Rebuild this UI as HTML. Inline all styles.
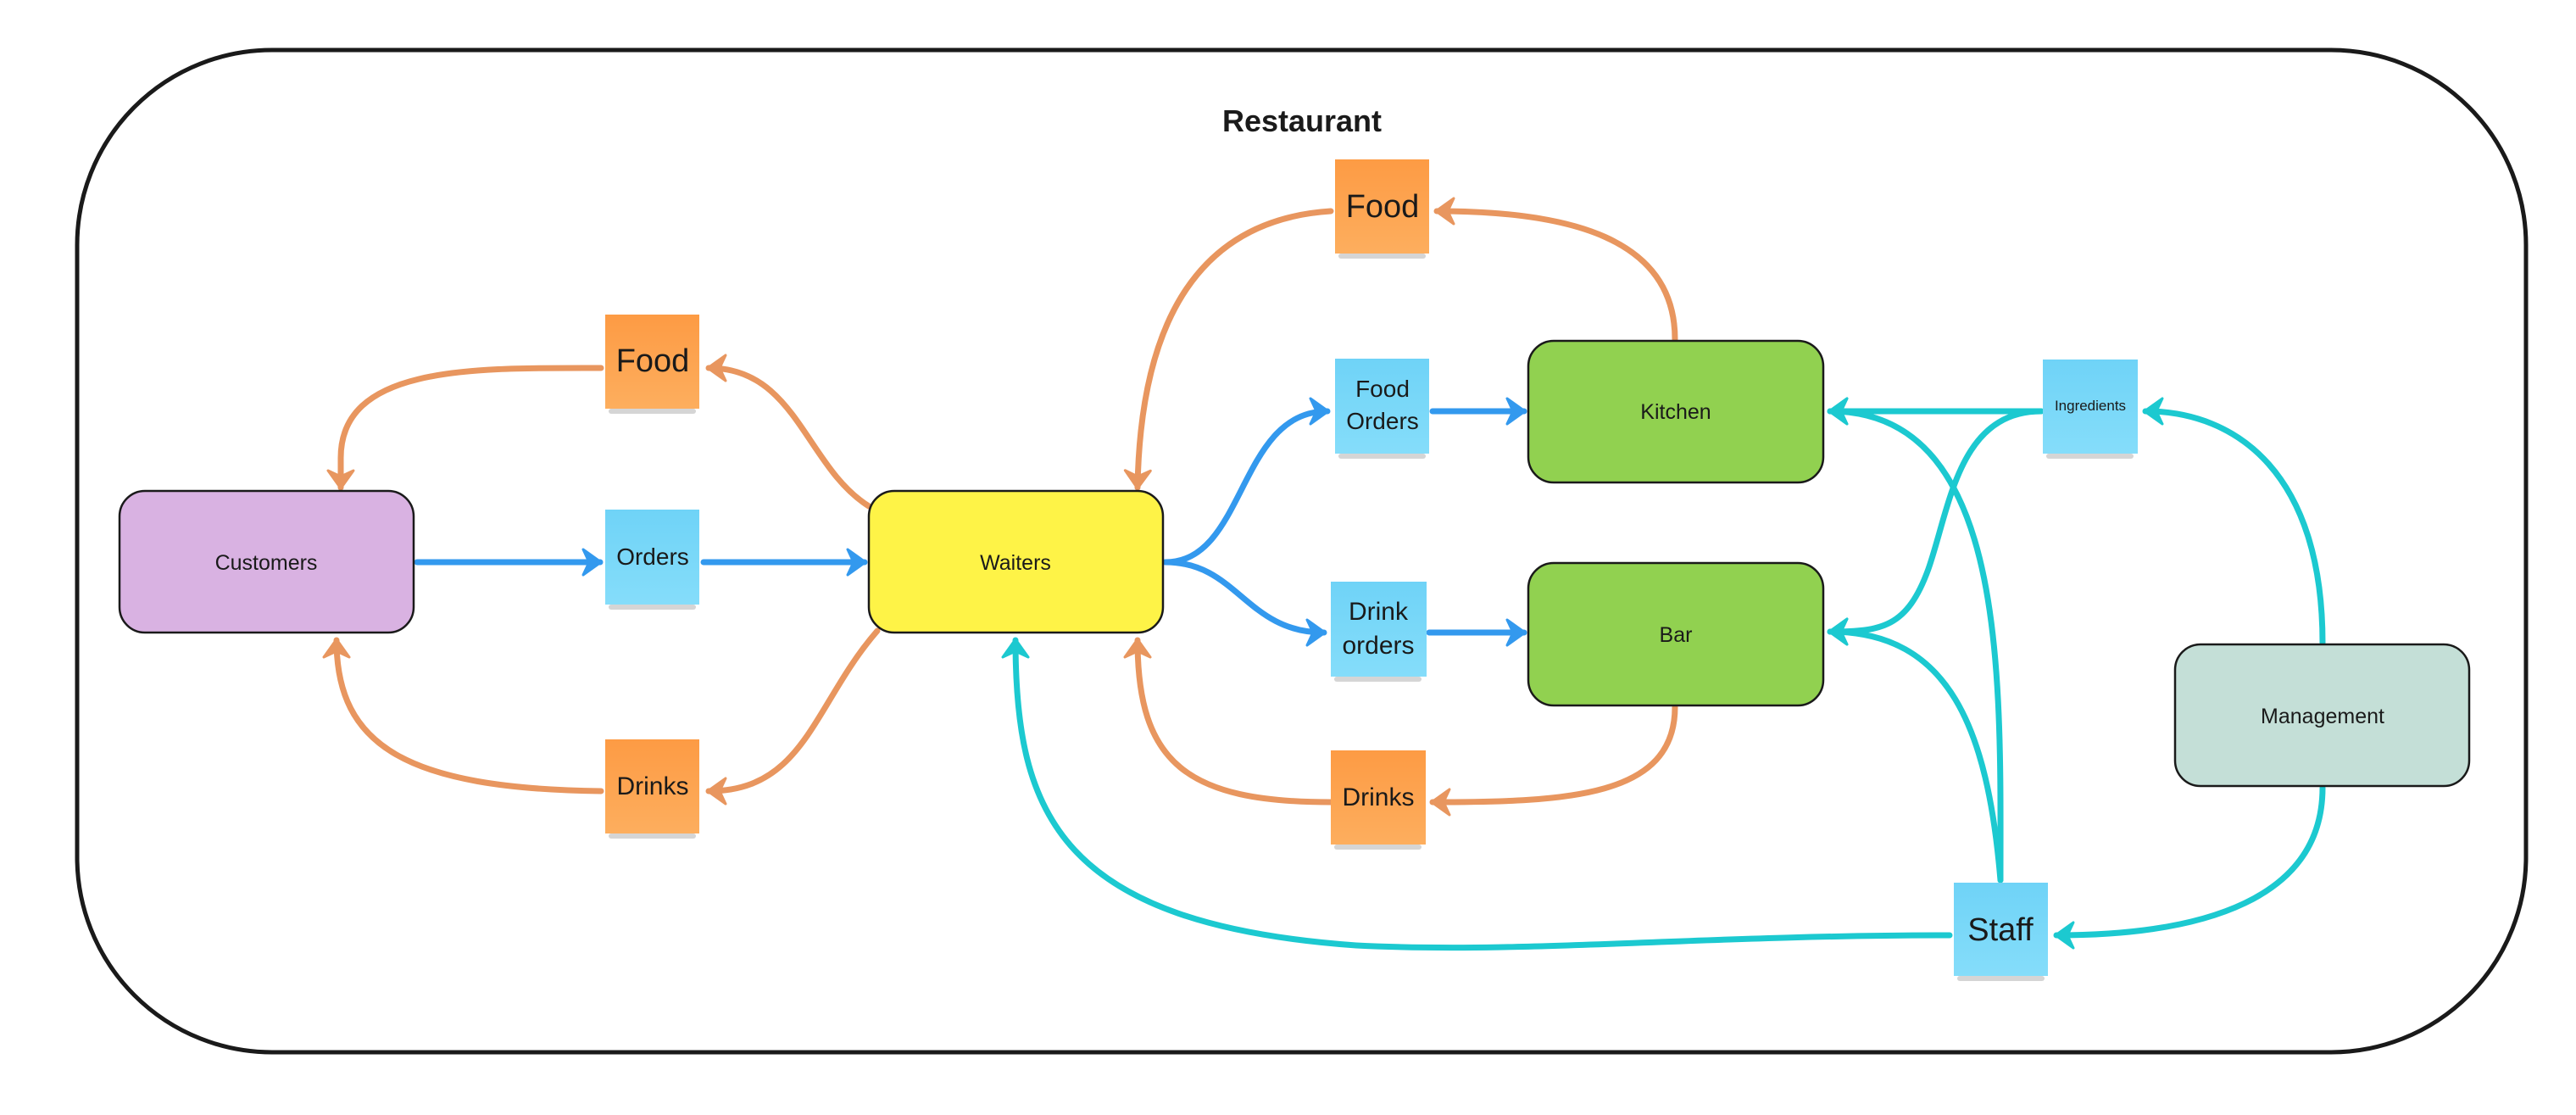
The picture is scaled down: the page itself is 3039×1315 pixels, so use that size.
<!DOCTYPE html>
<html><head><meta charset="utf-8"><style>
html,body{margin:0;padding:0;background:#fff;}
svg{display:block;}
text{font-family:"Liberation Sans",sans-serif;fill:#1a1a1a;}
</style></head><body>
<svg width="3039" height="1315" viewBox="0 0 3039 1315" xmlns="http://www.w3.org/2000/svg">
<defs>
<marker id="ao" markerUnits="userSpaceOnUse" markerWidth="40" markerHeight="40" refX="30" refY="20" orient="auto"><path d="M10,5 L31,20 L10,35 L17,20 Z" fill="#E8965F" stroke="#E8965F" stroke-width="3" stroke-linejoin="round"/></marker>
<marker id="ab" markerUnits="userSpaceOnUse" markerWidth="40" markerHeight="40" refX="30" refY="20" orient="auto"><path d="M10,5 L31,20 L10,35 L17,20 Z" fill="#3399EE" stroke="#3399EE" stroke-width="3" stroke-linejoin="round"/></marker>
<marker id="ac" markerUnits="userSpaceOnUse" markerWidth="40" markerHeight="40" refX="30" refY="20" orient="auto"><path d="M10,5 L31,20 L10,35 L17,20 Z" fill="#1CC9D0" stroke="#1CC9D0" stroke-width="3" stroke-linejoin="round"/></marker>
<linearGradient id="go" x1="0" y1="0" x2="0" y2="1"><stop offset="0" stop-color="#FD9B44"/><stop offset="1" stop-color="#FDAE5E"/></linearGradient>
<linearGradient id="gb" x1="0" y1="0" x2="0" y2="1"><stop offset="0" stop-color="#6FD3F7"/><stop offset="1" stop-color="#85DDFA"/></linearGradient>
</defs>
<rect x="91" y="59" width="2889" height="1182" rx="230" ry="230" fill="#fff" stroke="#1a1a1a" stroke-width="5"/>
<text x="1536" y="155" font-size="36" font-weight="bold" text-anchor="middle">Restaurant</text>

<g fill="none" stroke-width="7" stroke-linecap="round">
<path d="M709,434 C560,434 402,430 402,540 L402,575" stroke="#E8965F" marker-end="url(#ao)"/>
<path d="M1025,597 C950,550 940,434 836,434" stroke="#E8965F" marker-end="url(#ao)"/>
<path d="M1035,744 C960,830 950,933 836,933" stroke="#E8965F" marker-end="url(#ao)"/>
<path d="M709,933 C480,930 397,880 397,755" stroke="#E8965F" marker-end="url(#ao)"/>
<path d="M1570,249 C1400,260 1345,400 1342,575" stroke="#E8965F" marker-end="url(#ao)"/>
<path d="M1570,946 C1400,946 1342,900 1342,755" stroke="#E8965F" marker-end="url(#ao)"/>
<path d="M1976,400 C1976,280 1850,249 1695,249" stroke="#E8965F" marker-end="url(#ao)"/>
<path d="M1976,834 C1976,940 1850,946 1690,946" stroke="#E8965F" marker-end="url(#ao)"/>
<path d="M492,663 L708,663" stroke="#3399EE" marker-end="url(#ab)"/>
<path d="M830,663 L1020,663" stroke="#3399EE" marker-end="url(#ab)"/>
<path d="M1375,663 C1470,663 1460,485 1566,485" stroke="#3399EE" marker-end="url(#ab)"/>
<path d="M1375,663 C1460,663 1470,746 1562,746" stroke="#3399EE" marker-end="url(#ab)"/>
<path d="M1690,485 L1798,485" stroke="#3399EE" marker-end="url(#ab)"/>
<path d="M1686,746 L1798,746" stroke="#3399EE" marker-end="url(#ab)"/>
<path d="M2300,1103 C2000,1103 1800,1125 1600,1115 C1250,1090 1198,960 1198,755" stroke="#1CC9D0" marker-end="url(#ac)"/>
<path d="M2408,485 L2159,485" stroke="#1CC9D0" marker-end="url(#ac)"/>
<path d="M2408,485 C2310,485 2300,600 2275,671 C2250,740 2220,745 2159,745" stroke="#1CC9D0" marker-end="url(#ac)"/>
<path d="M2360,1038 C2360,800 2370,485 2159,485" stroke="#1CC9D0" marker-end="url(#ac)"/>
<path d="M2360,1038 C2345,860 2300,745 2159,745" stroke="#1CC9D0" marker-end="url(#ac)"/>
<path d="M2740,758 C2740,560 2640,485 2531,485" stroke="#1CC9D0" marker-end="url(#ac)"/>
<path d="M2740,929 C2740,1060 2600,1103 2426,1103" stroke="#1CC9D0" marker-end="url(#ac)"/>
</g>

<g stroke="#1a1a1a" stroke-width="2.5">
<rect x="141" y="579" width="347" height="167" rx="30" fill="#D9B2E2"/>
<rect x="1025" y="579" width="347" height="167" rx="30" fill="#FEF347"/>
<rect x="1803" y="402" width="348" height="167" rx="30" fill="#91D150"/>
<rect x="1803" y="664" width="348" height="168" rx="30" fill="#91D150"/>
<rect x="2566" y="760" width="347" height="167" rx="30" fill="#C4DFD7"/>
</g>
<g font-size="25" text-anchor="middle">
<text x="314" y="672">Customers</text>
<text x="1198" y="672">Waiters</text>
<text x="1977" y="494">Kitchen</text>
<text x="1977" y="757">Bar</text>
<text x="2740" y="853">Management</text>
</g>

<g fill="#888" opacity="0.35">
<rect x="718" y="482" width="103" height="6" rx="3"/>
<rect x="718" y="713" width="103" height="6" rx="3"/>
<rect x="718" y="983" width="103" height="6" rx="3"/>
<rect x="1579" y="299" width="103" height="6" rx="3"/>
<rect x="1579" y="535" width="103" height="6" rx="3"/>
<rect x="1574" y="798" width="103" height="6" rx="3"/>
<rect x="1574" y="996" width="103" height="6" rx="3"/>
<rect x="2414" y="535" width="103" height="6" rx="3"/>
<rect x="2309" y="1151" width="103" height="6" rx="3"/>
</g>
<rect x="714" y="371" width="111" height="111" fill="url(#go)"/>
<rect x="714" y="601" width="111" height="112" fill="url(#gb)"/>
<rect x="714" y="872" width="111" height="111" fill="url(#go)"/>
<rect x="1575" y="188" width="111" height="111" fill="url(#go)"/>
<rect x="1575" y="423" width="111" height="112" fill="url(#gb)"/>
<rect x="1570" y="686" width="113" height="112" fill="url(#gb)"/>
<rect x="1570" y="885" width="112" height="111" fill="url(#go)"/>
<rect x="2410" y="424" width="112" height="111" fill="url(#gb)"/>
<rect x="2305" y="1041" width="111" height="110" fill="url(#gb)"/>
<g text-anchor="middle">
<text x="770" y="438" font-size="38">Food</text>
<text x="770" y="666" font-size="28">Orders</text>
<text x="770" y="937" font-size="30">Drinks</text>
<text x="1631" y="256" font-size="38">Food</text>
<text x="1631" y="468" font-size="28">Food</text>
<text x="1631" y="506" font-size="28">Orders</text>
<text x="1626" y="731" font-size="30">Drink</text>
<text x="1626" y="771" font-size="30">orders</text>
<text x="1626" y="950" font-size="30">Drinks</text>
<text x="2466" y="484" font-size="17">Ingredients</text>
<text x="2360" y="1109" font-size="38">Staff</text>
</g>
</svg>
</body></html>
